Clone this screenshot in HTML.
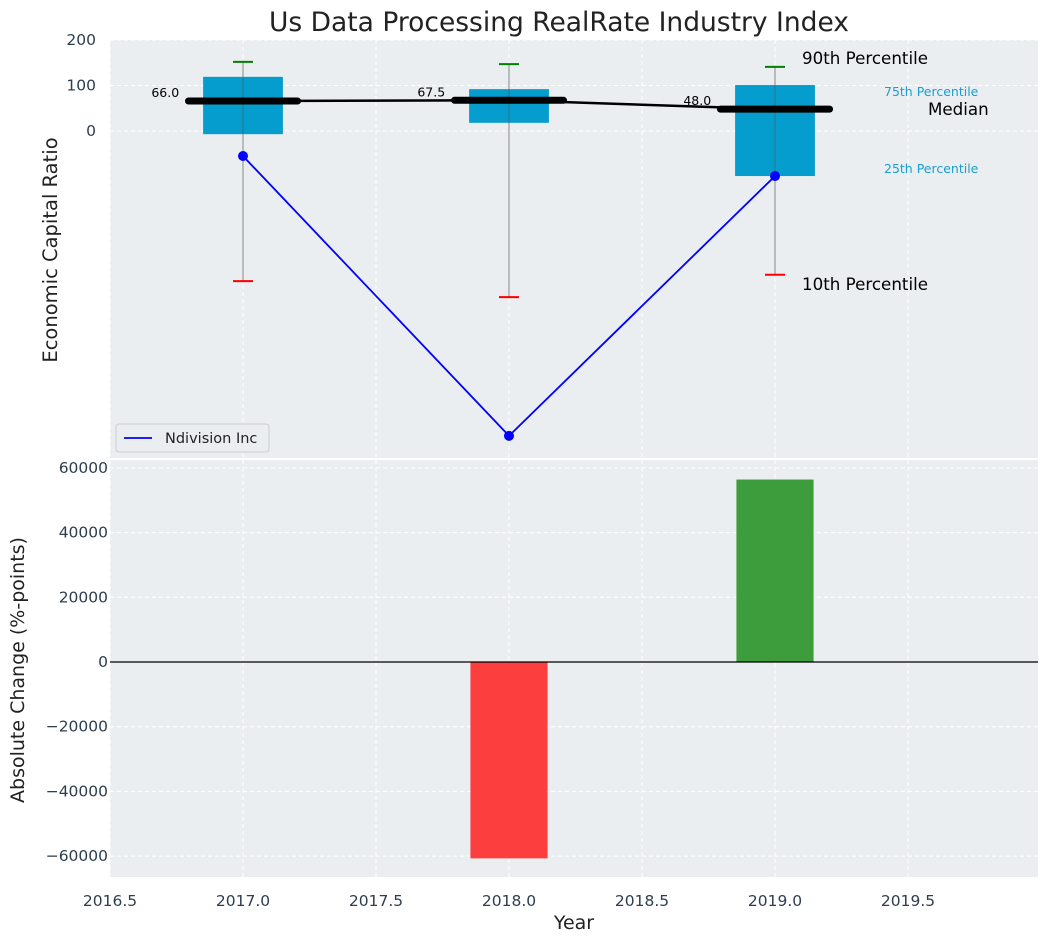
<!DOCTYPE html>
<html><head><meta charset="utf-8"><style>
body{margin:0;background:#fff;font-family:"Liberation Sans","DejaVu Sans",sans-serif}
svg text{font-family:"DejaVu Sans","Liberation Sans",sans-serif}
</style></head><body>
<svg id="c" width="1048" height="942"></svg>
<script>
const years=[2017,2018,2019];
const p10=[-330,-365,-316];
const p25=[-7,18,-99];
const medians=[66,67.5,48];
const p75=[119,92,101];
const p90=[152,147,141];
const companyVals=[-55,-670,-99];
const changes=[0,-60700,56400];
const topTicks=[200,100,0];
const botTicks=[60000,40000,20000,0,-20000,-40000,-60000];
const xTicks=[2016.5,2017.0,2017.5,2018.0,2018.5,2019.0,2019.5];

const NS="http://www.w3.org/2000/svg";
const svg=document.getElementById('c');
function el(t,a,txt){const e=document.createElementNS(NS,t);for(const k in a)e.setAttribute(k,a[k]);if(txt!==undefined)e.textContent=txt;svg.appendChild(e);return e;}
const L=110,R=1038,T1=40,B1=458,T2=460,B2=877;
const x=v=>L+(v-2016.5)*266;
const y1=v=>131-v*0.455;
const y2=v=>662-v*0.003235;

let e;
e=el('rect',{x:L,y:T1,width:R-L,height:B1-T1,fill:'#eaeef0'});

e=el('rect',{x:L,y:T2,width:R-L,height:B2-T2,fill:'#eaeef0'});


xTicks.forEach(t=>{
 el('line',{x1:x(t),x2:x(t),y1:T1,y2:B1,stroke:'#fff','stroke-dasharray':'4,3','stroke-width':1});
 el('line',{x1:x(t),x2:x(t),y1:T2,y2:B2,stroke:'#fff','stroke-dasharray':'4,3','stroke-width':1});
});
topTicks.forEach(t=>{
 el('line',{x1:L,x2:R,y1:y1(t),y2:y1(t),stroke:'#fff','stroke-dasharray':'4,3'});
 e=el('text',{x:L-14,y:y1(t)+5,'text-anchor':'end','font-size':15.5,fill:'#2d3e50'},t);
 
});
botTicks.forEach(t=>{
 el('line',{x1:L,x2:R,y1:y2(t),y2:y2(t),stroke:'#fff','stroke-dasharray':'4,3'});
 e=el('text',{x:L-2,y:y2(t)+5,'text-anchor':'end','font-size':15.5,fill:'#2d3e50'},t<0?'\u2212'+(-t):t);
 
});
xTicks.forEach(t=>{
 e=el('text',{x:x(t),y:906,'text-anchor':'middle','font-size':15.5,fill:'#2d3e50'},t.toFixed(1));
 
});
el('line',{x1:L,x2:R,y1:459,y2:459,stroke:'#fff','stroke-width':2});

years.forEach((yr,i)=>{
 const cx=x(yr);
 e=el('line',{x1:cx,x2:cx,y1:y1(p90[i]),y2:y1(p10[i]),stroke:'#888','stroke-width':1});
 
 e=el('rect',{x:x(yr-0.15),y:y1(p75[i]),width:x(yr+0.15)-x(yr-0.15),height:y1(p25[i])-y1(p75[i]),fill:'#009bcc','fill-opacity':0.98});
 
 el('line',{x1:cx,x2:cx,y1:y1(p75[i]),y2:y1(p25[i]),stroke:'#555','stroke-width':1,'stroke-opacity':0.6});
 e=el('line',{x1:cx-10,x2:cx+10,y1:y1(p90[i]),y2:y1(p90[i]),stroke:'green','stroke-width':2});
 
 e=el('line',{x1:cx-10,x2:cx+10,y1:y1(p10[i]),y2:y1(p10[i]),stroke:'red','stroke-width':2});
 
});
let pts=years.map((yr,i)=>x(yr)+','+y1(medians[i])).join(' ');
e=el('polyline',{points:pts,fill:'none',stroke:'#000','stroke-width':2.5});

years.forEach((yr,i)=>{
 e=el('line',{x1:x(yr-0.205),x2:x(yr+0.205),y1:y1(medians[i]),y2:y1(medians[i]),stroke:'#000','stroke-width':7,'stroke-linecap':'round'});
 
 e=el('text',{x:x(yr-0.24),y:y1(medians[i])-4,'text-anchor':'end','font-size':12.5,fill:'#000'},medians[i].toFixed(1));
 
});
pts=years.map((yr,i)=>x(yr)+','+y1(companyVals[i])).join(' ');
e=el('polyline',{points:pts,fill:'none',stroke:'blue','stroke-width':1.8});

years.forEach((yr,i)=>{
 e=el('circle',{cx:x(yr),cy:y1(companyVals[i]),r:5,fill:'blue'});
 
});
const ann=[[802,64,'90th Percentile',16.7,'#000'],[884,96,'75th Percentile',12.5,'#1a9fd0'],[928,115,'Median',16.7,'#000'],[884,173,'25th Percentile',12.5,'#1a9fd0'],[802,290,'10th Percentile',16.7,'#000']];
ann.forEach(a=>{e=el('text',{x:a[0],y:a[1],'font-size':a[3],fill:a[4]},a[2]);});
e=el('rect',{x:116,y:424,width:153,height:28,rx:3,fill:'#eaeef0',stroke:'#ccc'});

el('line',{x1:124,x2:152,y1:438,y2:438,stroke:'blue','stroke-width':1.8});
e=el('text',{x:165,y:443,'font-size':14.5,fill:'#222'},'Ndivision Inc');


years.forEach((yr,i)=>{
 const v=changes[i]; if(v===0)return;
 const ya=y2(Math.max(v,0)),yb=y2(Math.min(v,0));
 e=el('rect',{x:x(yr-0.145),y:ya,width:x(yr+0.145)-x(yr-0.145),height:yb-ya,fill:v<0?'#ff2a2a':'#2a9228','fill-opacity':0.9});
 
});
el('line',{x1:L,x2:R,y1:y2(0),y2:y2(0),stroke:'#000','stroke-width':1.2});

e=el('text',{x:559,y:31,'text-anchor':'middle','font-size':26.5,fill:'#222'},'Us Data Processing RealRate Industry Index');

e=el('text',{x:0,y:0,'text-anchor':'middle','font-size':19.5,fill:'#222',transform:'translate(57,250) rotate(-90)'},'Economic Capital Ratio');

e=el('text',{x:0,y:0,'text-anchor':'middle','font-size':19,fill:'#222',transform:'translate(24,670) rotate(-90)'},'Absolute Change (%-points)');

e=el('text',{x:574,y:929,'text-anchor':'middle','font-size':19,fill:'#222'},'Year');


</script>
</body></html>
